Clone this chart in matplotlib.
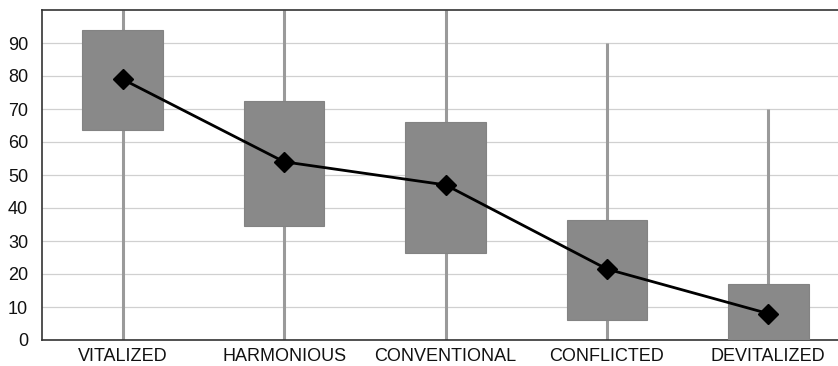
import matplotlib
matplotlib.use("Agg")
import matplotlib.pyplot as plt
import numpy as np

plt.rcParams['font.family'] = ['Liberation Sans', 'DejaVu Sans']

categories = ["VITALIZED", "HARMONIOUS", "CONVENTIONAL", "CONFLICTED", "DEVITALIZED"]
whisker_low = [0, 0, 0, 0, 0]
whisker_high = [100, 100, 100, 90, 70]
box_low = [63.5, 34.5, 26.5, 6, 0]
box_high = [94, 72.5, 66, 36.5, 17]
means = [79, 54, 47, 21.5, 8]
yticks = [0, 10, 20, 30, 40, 50, 60, 70, 80, 90]

fig = plt.figure(figsize=(8.38, 3.66), dpi=100)
ax = fig.add_axes([42/838, 26/366, 807/838, 330/366])

x = np.arange(len(categories))
ax.vlines(x, whisker_low, whisker_high, color="#9a9a9a", lw=2.2, zorder=2)
ax.bar(x, np.array(box_high) - np.array(box_low), bottom=box_low, width=0.5,
       color="#898989", edgecolor="#838383", lw=0.8, zorder=3)
ax.plot(x, means, color="black", lw=2, marker="D", markersize=10, zorder=4)

ax.set_xlim(-0.5, 4.5)
ax.set_ylim(0, 100)
ax.set_yticks(yticks)
ax.set_xticks(x)
ax.set_xticklabels(categories, fontsize=13, color="#111111")
ax.tick_params(axis="both", length=0, labelsize=13, colors="#111111")
ax.tick_params(axis="y", pad=10)
ax.tick_params(axis="x", pad=6)
ax.yaxis.grid(True, color="#d0d0d0", lw=0.9)
ax.set_axisbelow(True)
for s in ["left", "bottom", "top"]:
    ax.spines[s].set_color("#333333")
    ax.spines[s].set_linewidth(1.2)
ax.spines["right"].set_visible(False)

fig.savefig("out.png", dpi=100)
